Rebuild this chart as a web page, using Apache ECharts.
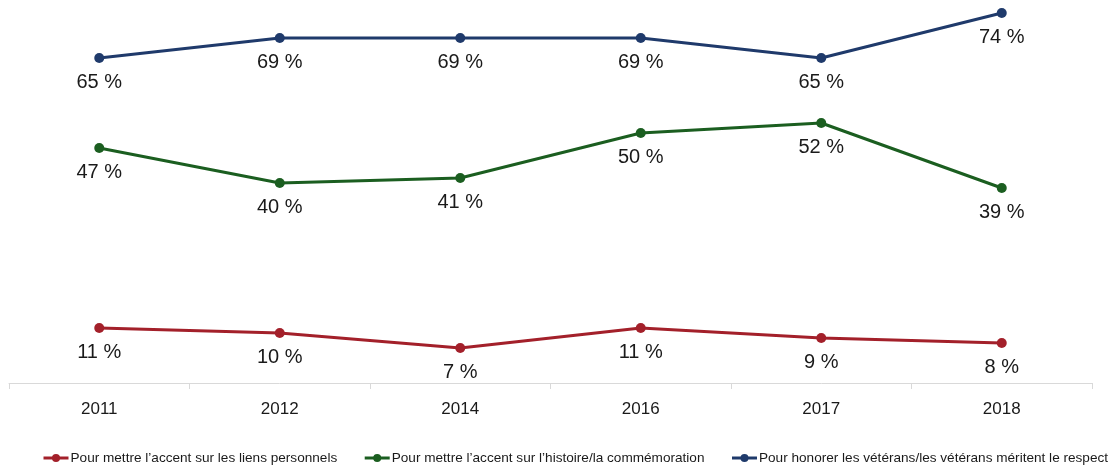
<!DOCTYPE html>
<html>
<head>
<meta charset="utf-8">
<script src="https://cdn.jsdelivr.net/npm/echarts@6/dist/echarts.min.js"></script>
<style>
  html, body { margin: 0; padding: 0; background: #fff; }
  #chart { width: 1110px; height: 468px; }
</style>
</head>
<body>
<div id="chart"></div>
<script>
  // années
  const years = ['2011', '2012', '2014', '2016', '2017', '2018'];
  // séries
  const liensPersonnels = [11, 10, 7, 11, 9, 8];
  const histoire = [47, 40, 41, 50, 52, 39];
  const veterans = [65, 69, 69, 69, 65, 74];
  const names = [
    'Pour mettre l\u2019accent sur les liens personnels',
    'Pour mettre l\u2019accent sur l\u2019histoire/la commémoration',
    'Pour honorer les vétérans/les vétérans méritent le respect'
  ];
  const colors = ['#A3202A', '#1B5E20', '#1F3A6B'];

  function makeSeries(name, data, color) {
    return {
      name: name,
      type: 'line',
      data: data,
      symbol: 'circle',
      symbolSize: 10,
      lineStyle: {width: 3, color: color},
      itemStyle: {color: color},
      label: {
        show: true,
        position: 'bottom',
        distance: 9,
        formatter: '{c} %',
        fontFamily: 'Liberation Sans, Arial, sans-serif',
        fontSize: 20,
        color: '#1a1a1a'
      }
    };
  }

  const chart = echarts.init(document.getElementById('chart'));
  chart.setOption({
    animation: false,
    grid: {left: 9, right: 18, top: 3, bottom: 85},
    legend: {
      left: 37,
      top: 446,
      width: 1400,
      itemWidth: 25,
      itemHeight: 10,
      itemGap: 26,
      lineStyle: {width: 3},
      textStyle: {
        fontFamily: 'Liberation Sans, Arial, sans-serif',
        fontSize: 13.6,
        color: '#1a1a1a',
        padding: [0, 0, 0, -3]
      },
      data: names
    },
    xAxis: {
      type: 'category',
      data: years,
      boundaryGap: true,
      axisLine: {lineStyle: {color: '#d9d9d9', width: 1}},
      axisTick: {show: true, length: 6, lineStyle: {color: '#d9d9d9'}},
      axisLabel: {
        margin: 18,
        fontFamily: 'Liberation Sans, Arial, sans-serif',
        fontSize: 17,
        color: '#1a1a1a'
      }
    },
    yAxis: {
      type: 'value',
      min: 0,
      max: 76,
      show: false
    },
    series: [
      makeSeries(names[0], liensPersonnels, colors[0]),
      makeSeries(names[1], histoire, colors[1]),
      makeSeries(names[2], veterans, colors[2])
    ]
  });
</script>
</body>
</html>
